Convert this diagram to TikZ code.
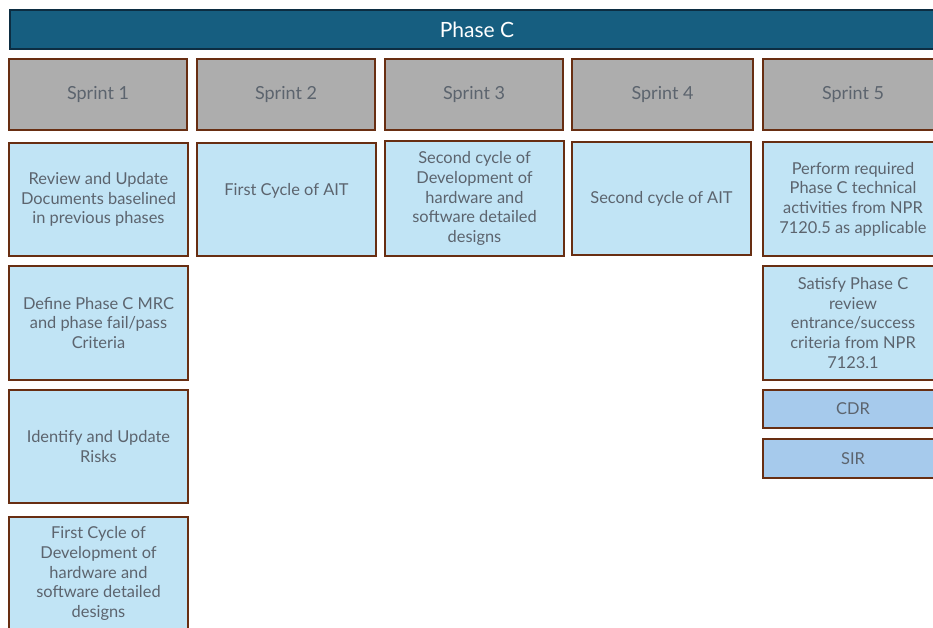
\documentclass[tikz,border=0pt]{standalone}
\usepackage{fontspec}
\setmainfont{Lato}
\definecolor{hdrfill}{RGB}{22,94,128}
\definecolor{hdrline}{RGB}{12,45,66}
\definecolor{sprintfill}{RGB}{173,173,173}
\definecolor{boxline}{RGB}{104,46,18}
\definecolor{taskfill}{RGB}{193,228,245}
\definecolor{reviewfill}{RGB}{166,202,236}
\definecolor{txt}{RGB}{92,100,110}
\tikzset{
  base/.style={draw=boxline, line width=2.4pt, inner sep=0pt, text=txt, align=center},
  sprintbox/.style={base, fill=sprintfill, font=\fontsize{18}{21}\selectfont},
  taskbox/.style={base, fill=taskfill, font=\fontsize{16.4}{19.6}\selectfont},
  reviewbox/.style={base, fill=reviewfill, font=\fontsize{16.4}{19.6}\selectfont},
}
\begin{document}
\begin{tikzpicture}[x=1pt, y=-1pt]
\useasboundingbox (0,0) rectangle (933,628);
\clip (0,0) rectangle (933,628);
% phase header
\node[draw=hdrline, line width=2pt, fill=hdrfill, text=white, font=\fontsize{21}{24}\selectfont,
      minimum width=934pt, minimum height=39pt, inner sep=0pt] (phase) at (477,29.5) {Phase C};
% sprint headers
\node[sprintbox, minimum width=178pt, minimum height=71pt] (s1) at (98,94.5) {\raisebox{1.5pt}{Sprint 1}};
\node[sprintbox, minimum width=178pt, minimum height=71pt] (s2) at (286,94.5) {Sprint 2};
\node[sprintbox, minimum width=178pt, minimum height=71pt] (s3) at (474,94.5) {Sprint 3};
\node[sprintbox, minimum width=181pt, minimum height=71pt] (s4) at (662.5,94.5) {Sprint 4};
\node[sprintbox, minimum width=180pt, minimum height=71pt] (s5) at (853,94.5) {Sprint 5};
% sprint 1 tasks
\node[taskbox, minimum width=179pt, minimum height=113pt] (t11) at (98.5,199.5)
  {Review and Update\\Documents baselined\\in previous phases};
\node[taskbox, minimum width=179pt, minimum height=114pt] (t12) at (98.5,323)
  {Define Phase C MRC\\and phase fail/pass\\Criteria};
\node[taskbox, minimum width=179pt, minimum height=113pt] (t13) at (98.5,446.5)
  {Identify and Update\\Risks};
\node[taskbox, minimum width=179pt, minimum height=113pt] (t14) at (98.5,573.5)
  {First Cycle of\\Development of\\hardware and\\software detailed\\designs};
% sprint 2 tasks
\node[taskbox, minimum width=179pt, minimum height=113pt] (t21) at (286.5,199.5)
  {\raisebox{20pt}{First Cycle of AIT}};
% sprint 3 tasks
\node[taskbox, minimum width=179pt, minimum height=115pt] (t31) at (474.5,198.5)
  {Second cycle of\\Development of\\hardware and\\software detailed\\designs};
% sprint 4 tasks
\node[taskbox, minimum width=179pt, minimum height=113pt] (t41) at (661.5,198.5)
  {Second cycle of AIT};
% sprint 5 tasks
\node[taskbox, minimum width=180pt, minimum height=114pt] (t51) at (853,199)
  {Perform required\\Phase C technical\\activities from NPR\\7120.5 as applicable};
\node[taskbox, minimum width=180pt, minimum height=114pt] (t52) at (853,323)
  {Satisfy Phase C\\review\\entrance/success\\criteria from NPR\\7123.1};
\node[reviewbox, minimum width=180pt, minimum height=38pt] (cdr) at (853,409) {CDR};
\node[reviewbox, minimum width=180pt, minimum height=39pt] (sir) at (853,458.5) {SIR};
\end{tikzpicture}
\end{document}
